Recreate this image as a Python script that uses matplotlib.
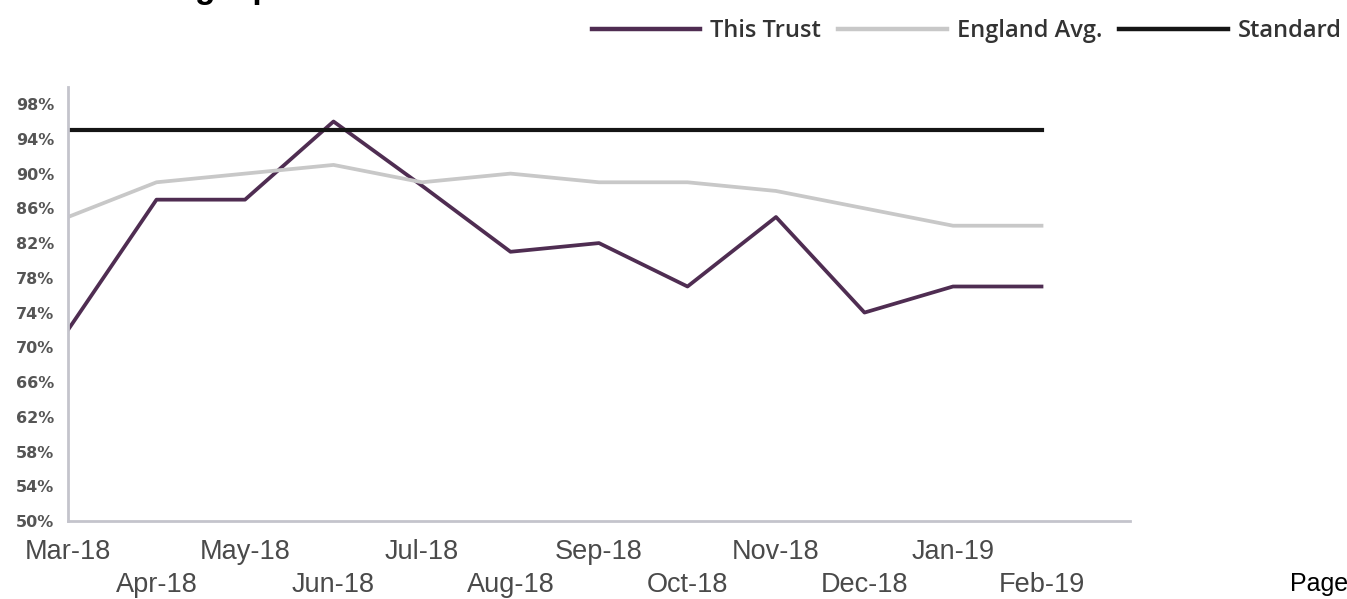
import matplotlib.pyplot as plt
import numpy as np

# monthly performance, Mar-18 to Feb-19
months = ['Mar-18', 'Apr-18', 'May-18', 'Jun-18', 'Jul-18', 'Aug-18',
          'Sep-18', 'Oct-18', 'Nov-18', 'Dec-18', 'Jan-19', 'Feb-19']
this_trust = [72, 87, 87, 96, 88.6, 81, 82, 77, 85, 74, 77, 77]
england_avg = [85, 89, 90, 91, 89, 90, 89, 89, 88, 86, 84, 84]
standard = [95] * 12
y_ticks = list(range(50, 99, 4))

fig = plt.figure(figsize=(13.47, 5.99), dpi=100)
ax = fig.add_axes([68 / 1347, 1 - 521 / 599, (1130 - 68) / 1347, (521 - 86.75) / 599])

x = np.arange(len(months))
l1, = ax.plot(x, this_trust, color='#4f2d52', lw=2.7, label='This Trust')
l2, = ax.plot(x, england_avg, color='#c8c8c8', lw=2.7, label='England Avg.')
l3, = ax.plot(x, standard, color='#151515', lw=3.0, label='Standard')

ax.set_xlim(0, len(months))
ax.set_ylim(50, 100)

ax.set_yticks(y_ticks)
ax.set_yticklabels([f'{v}%' for v in y_ticks], fontsize=11.5, fontweight='bold', color='#555555')

# staggered month labels: even months on the first row, odd on the second
ax.set_xticks(x[::2], [months[i] for i in x[::2]])
ax.set_xticks(x[1::2], [months[i] for i in x[1::2]], minor=True)
for lab in ax.get_xticklabels(which='both'):
    lab.set_fontfamily('Liberation Sans')
    lab.set_fontsize(19.5)
    lab.set_color('#4a4a4a')
ax.tick_params(axis='both', which='both', length=0)
ax.tick_params(axis='x', which='major', pad=13)
ax.tick_params(axis='x', which='minor', pad=36.5)
ax.tick_params(axis='y', pad=10)

for side in ['top', 'right']:
    ax.spines[side].set_visible(False)
for side in ['left', 'bottom']:
    ax.spines[side].set_color('#c4c4cc')
    ax.spines[side].set_linewidth(2)

leg = fig.legend(handles=[l1, l2, l3], loc='upper right', bbox_to_anchor=(1.003, 0.984),
                 ncol=3, frameon=False, handlelength=4.6, handletextpad=0.42,
                 columnspacing=0.72, borderaxespad=0,
                 prop={'family': 'Open Sans', 'size': 17, 'weight': 'semibold'})
for t in leg.get_texts():
    t.set_color('#333333')
for h in leg.get_lines():
    h.set_linewidth(3.2)

# heading sits mostly above the page edge
fig.text(54 / 1347, 1 + 2 / 599, 'Screening – performance', fontsize=24,
         fontweight='bold', fontfamily='Liberation Sans', va='baseline', ha='left')
fig.text(1290 / 1347, 1 - 591 / 599, 'Page', fontsize=18,
         fontfamily='Liberation Sans', va='baseline', ha='left')

plt.savefig('out.png', dpi=100)
plt.close()
